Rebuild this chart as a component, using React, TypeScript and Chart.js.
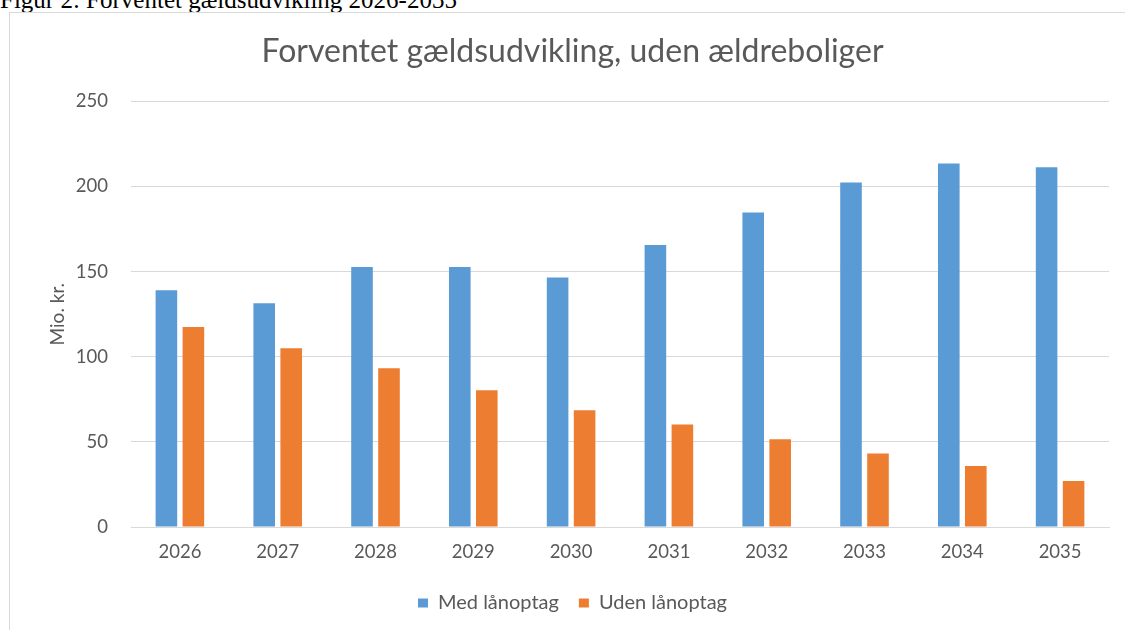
import React, { useEffect, useRef } from "react";
import { Chart, registerables } from "chart.js";

Chart.register(...registerables);

const years = ["2026", "2027", "2028", "2029", "2030", "2031", "2032", "2033", "2034", "2035"];
const medLaanoptag = [139, 131.5, 152.7, 152.7, 146.6, 165.6, 184.7, 202.4, 213.5, 211.3];
const udenLaanoptag = [117.5, 105, 93.2, 80.3, 68.6, 60.2, 51.6, 43.2, 35.8, 27];
const yTicks = [0, 50, 100, 150, 200, 250];

const captionText = "Figur 2: Forventet gældsudvikling 2026-2035";
const titleText = "Forventet gældsudvikling, uden ældreboliger";
const yTitleText = "Mio. kr.";
const seriesNames = ["Med lånoptag", "Uden lånoptag"];

const FONT = "Lato";
const GRAY = "#595959";
const GRID = "#d9d9d9";

export default function App() {
  const ref = useRef<HTMLCanvasElement | null>(null);

  useEffect(() => {
    if (!ref.current) return;
    const chart = new Chart(ref.current, {
      type: "bar",
      data: {
        labels: years,
        datasets: [
          {
            label: seriesNames[0],
            data: medLaanoptag,
            backgroundColor: "#5b9bd5",
            categoryPercentage: 0.552,
            barPercentage: 0.8,
          },
          {
            label: seriesNames[1],
            data: udenLaanoptag,
            backgroundColor: "#ed7d31",
            categoryPercentage: 0.552,
            barPercentage: 0.8,
          },
        ],
      },
      options: {
        responsive: false,
        animation: false,
        devicePixelRatio: 1,
        layout: { padding: { left: 26, right: 16, top: 0, bottom: 7 } },
        plugins: {
          title: {
            display: true,
            text: titleText,
            color: GRAY,
            font: { family: FONT, size: 32, weight: "normal" },
            padding: { top: 19, bottom: 31 },
          },
          legend: {
            position: "bottom",
            labels: {
              boxWidth: 10,
              boxHeight: 9,
              padding: 20,
              color: GRAY,
              font: { family: FONT, size: 20 },
            },
          },
          tooltip: { enabled: false },
        },
        scales: {
          x: {
            grid: { display: false, drawTicks: false },
            border: { display: true, color: GRID, width: 1 },
            ticks: {
              color: GRAY,
              font: { family: FONT, size: 18.5 },
              padding: 14,
              maxRotation: 0,
            },
            afterFit: (s: any) => {
              s.height = 46;
            },
          },
          y: {
            min: 0,
            max: 250,
            afterBuildTicks: (s: any) => {
              s.ticks = yTicks.map((v) => ({ value: v }));
            },
            grid: { color: GRID, lineWidth: 1, drawTicks: false },
            border: { display: false },
            ticks: {
              color: GRAY,
              font: { family: FONT, size: 18.5 },
              padding: 23,
            },
            title: {
              display: true,
              text: yTitleText,
              color: GRAY,
              font: { family: FONT, size: 19 },
              padding: { top: 10, bottom: 0 },
            },
            afterFit: (s: any) => {
              s.width = 95;
            },
          },
        },
      },
    });
    return () => chart.destroy();
  }, []);

  return (
    <div
      style={{
        position: "fixed",
        left: 0,
        top: 0,
        width: 1125,
        height: 630,
        background: "#fff",
        overflow: "hidden",
      }}
    >
      <div
        style={{
          position: "absolute",
          left: 0,
          top: -13,
          fontFamily: '"Liberation Serif", serif',
          fontSize: 25,
          lineHeight: "25px",
          whiteSpace: "nowrap",
          color: "#000",
        }}
      >
        {captionText}
      </div>
      <div
        style={{
          position: "absolute",
          left: 9,
          top: 12,
          width: 1200,
          height: 700,
          border: "1px solid #d9d9d9",
          boxSizing: "border-box",
        }}
      >
        <canvas ref={ref} width={1115} height={617} style={{ display: "block", width: 1115, height: 617 }} />
      </div>
    </div>
  );
}
